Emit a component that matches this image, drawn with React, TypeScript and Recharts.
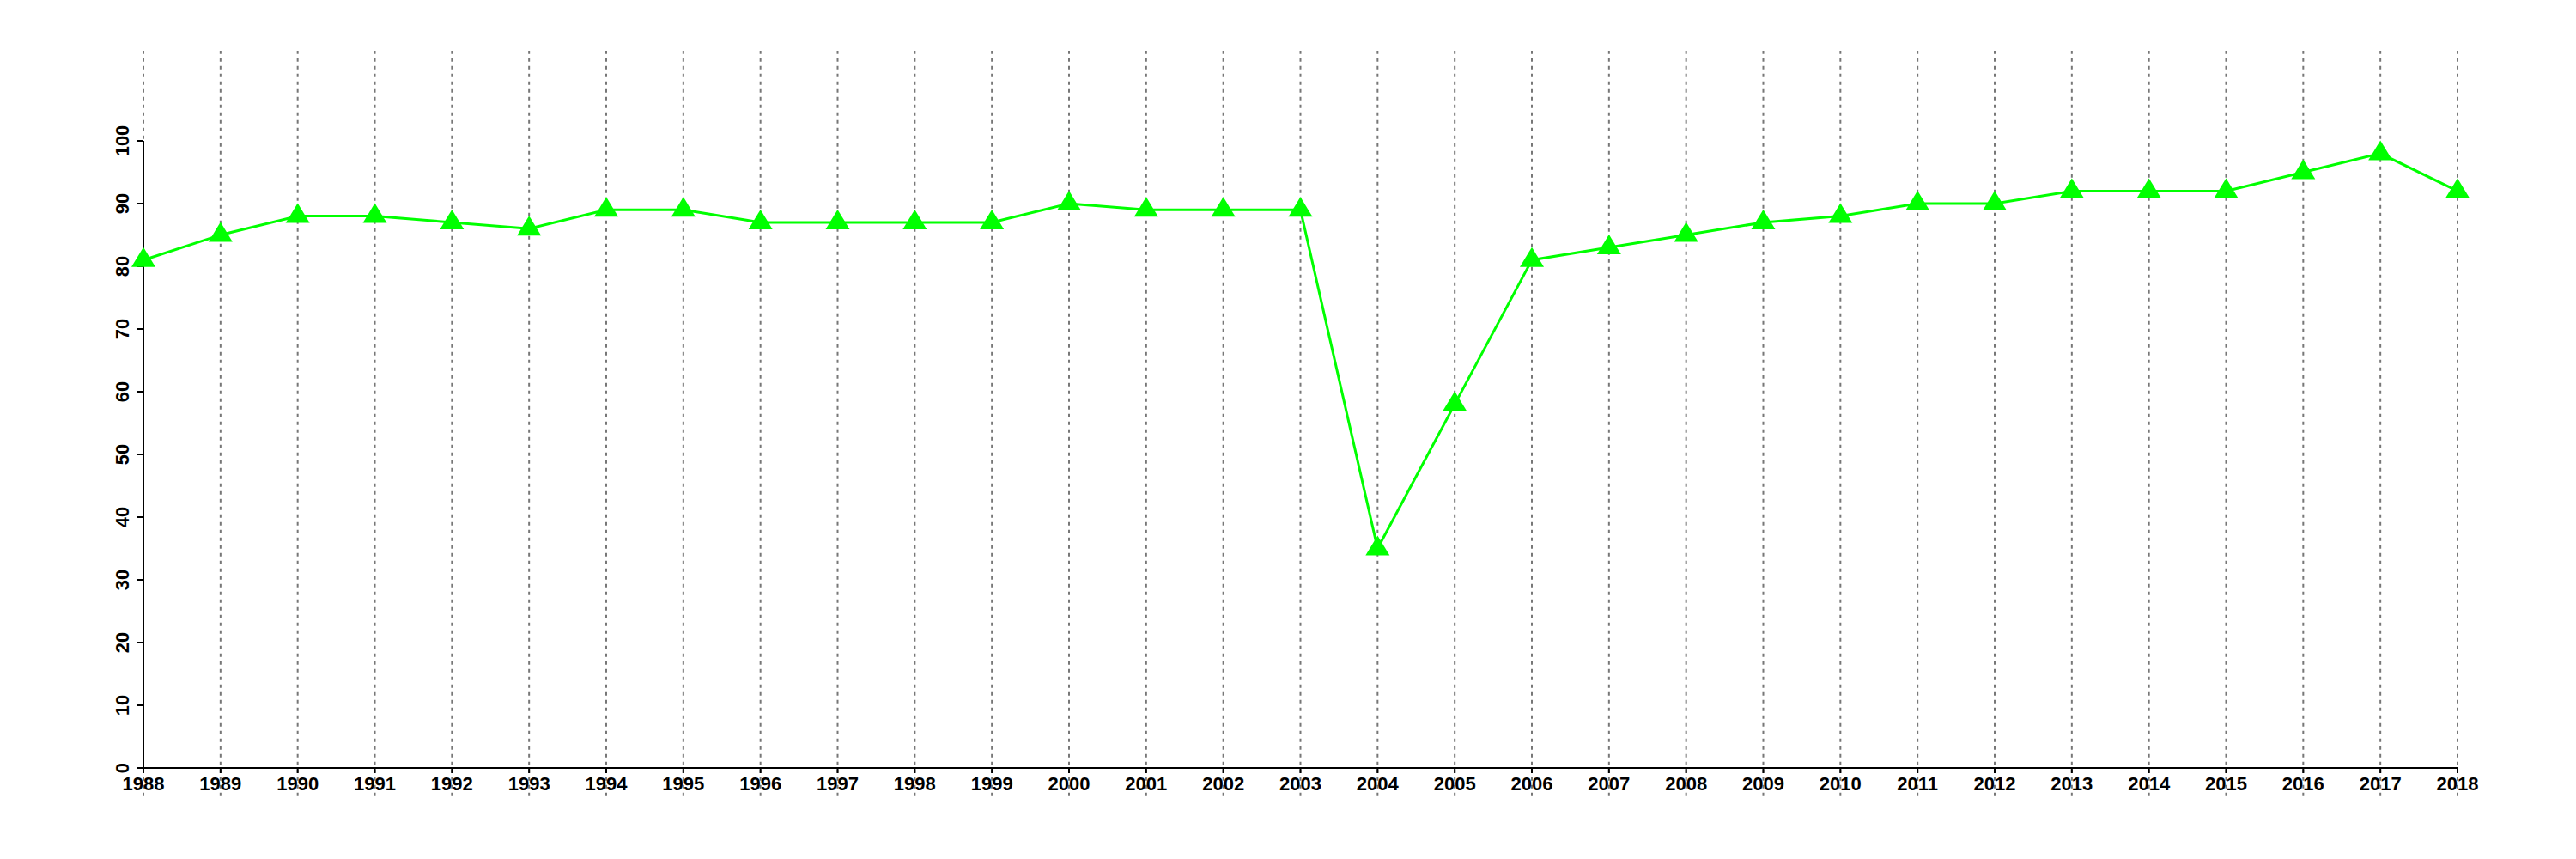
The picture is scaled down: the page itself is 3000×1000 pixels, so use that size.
import React from "react"
import { LineChart, Line, XAxis, YAxis, ReferenceLine } from "recharts"

const years = [
  1988, 1989, 1990, 1991, 1992, 1993, 1994, 1995, 1996, 1997, 1998, 1999, 2000, 2001, 2002, 2003,
  2004, 2005, 2006, 2007, 2008, 2009, 2010, 2011, 2012, 2013, 2014, 2015, 2016, 2017, 2018,
]
const values = [
  81, 85, 88, 88, 87, 86, 89, 89, 87, 87, 87, 87, 90, 89, 89, 89,
  35, 58, 81, 83, 85, 87, 88, 90, 90, 92, 92, 92, 95, 98, 92,
]
const yTicks = [0, 10, 20, 30, 40, 50, 60, 70, 80, 90, 100]

const data = years.map((year, i) => ({ year, value: values[i] }))

const FONT = "'Liberation Sans', Arial, Helvetica, sans-serif"
const GREEN = "#00ff00"

const Triangle = (props: any) => {
  const { cx, cy } = props
  if (cx == null || cy == null) return null
  const pts = `${cx},${cy - 15} ${cx - 14},${cy + 8} ${cx + 14},${cy + 8}`
  return <polygon points={pts} fill={GREEN} stroke="none" />
}

const YTick = (props: any) => {
  const { y, payload } = props
  const x = 142
  return (
    <text
      x={x}
      y={y}
      transform={`rotate(-90, ${x}, ${y})`}
      textAnchor="middle"
      dominantBaseline="central"
      fontFamily={FONT}
      fontWeight="bold"
      fontSize={22}
      fill="#000"
    >
      {payload.value}
    </text>
  )
}

const XTick = (props: any) => {
  const { x, payload } = props
  return (
    <text x={x} y={920} textAnchor="middle" fontFamily={FONT} fontWeight="bold" fontSize={22} fill="#000">
      {payload.value}
    </text>
  )
}

export default function App() {
  return (
    <div style={{ position: "absolute", left: 0, top: 0, background: "#fff" }}>
      <LineChart
        width={3000}
        height={1000}
        data={data}
        margin={{ top: 164, right: 138, bottom: 66, left: 107 }}
      >
        <XAxis
          dataKey="year"
          type="number"
          domain={[1988, 2018]}
          ticks={years}
          interval={0}
          height={40}
          axisLine={{ stroke: "#000", strokeWidth: 2 }}
          tickLine={{ stroke: "#000", strokeWidth: 2 }}
          tickSize={6}
          tick={<XTick />}
        />
        <YAxis
          type="number"
          domain={[0, 100]}
          ticks={yTicks}
          interval={0}
          width={60}
          axisLine={{ stroke: "#000", strokeWidth: 2 }}
          tickLine={{ stroke: "#000", strokeWidth: 2 }}
          tickSize={7}
          tick={<YTick />}
        />
        <Line
          type="linear"
          dataKey="value"
          stroke={GREEN}
          strokeWidth={3}
          dot={<Triangle />}
          activeDot={false}
          isAnimationActive={false}
        />
        {years.map((yr) => (
          <ReferenceLine
            key={yr}
            segment={[
              { x: yr, y: -4.5 },
              { x: yr, y: 114.4 },
            ]}
            ifOverflow="visible"
            stroke="#777"
            strokeWidth={2}
            strokeDasharray="4 5"
          />
        ))}
      </LineChart>
    </div>
  )
}
